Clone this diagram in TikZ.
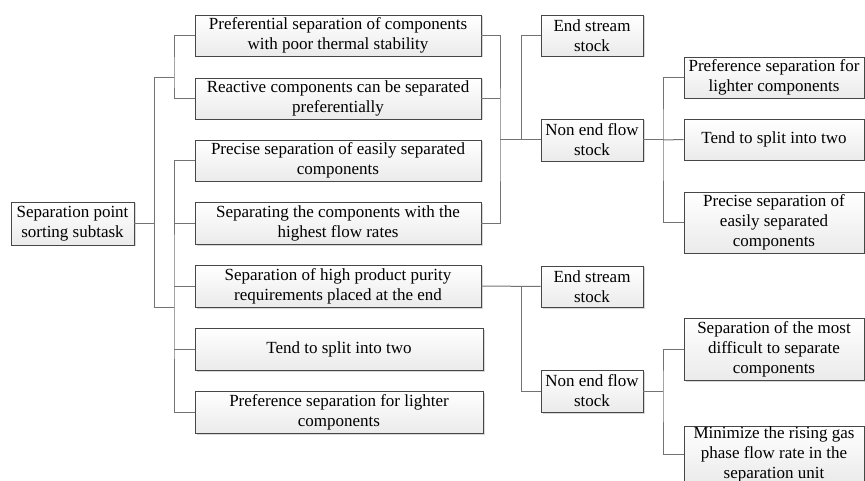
\documentclass[tikz,border=0pt]{standalone}
\usepackage{fontspec}
\setmainfont{Liberation Serif}
\usetikzlibrary{shadows}
\begin{document}
\begin{tikzpicture}[x=1pt,y=-1pt,
  box/.style={draw=black!72, line width=0.8pt, top color=white, bottom color=black!8,
    drop shadow={shadow xshift=1.5pt, shadow yshift=-1.5pt, fill=black!30, opacity=0.5},
    align=center, inner sep=0pt, font=\fontsize{17}{20}\selectfont},
  conn/.style={draw=black!55, line width=1pt}]
\useasboundingbox (0,0) rectangle (865,481);
% column 0
\node[box, minimum width=123pt, minimum height=43pt] (root) at (72.5,223.5) {Separation point\\sorting subtask};
% column 1
\node[box, minimum width=286pt, minimum height=41pt] (A1) at (338,35.5) {Preferential separation of components\\with poor thermal stability};
\node[box, minimum width=286pt, minimum height=41pt] (A2) at (338,98.5) {Reactive components can be separated\\preferentially};
\node[box, minimum width=286pt, minimum height=41pt] (B1) at (338,160.5) {Precise separation of easily separated\\components};
\node[box, minimum width=286pt, minimum height=42pt] (B2) at (338,223.5) {Separating the components with the\\highest flow rates};
\node[box, minimum width=286pt, minimum height=42pt] (B3) at (338,286) {Separation of high product purity\\requirements placed at the end};
\node[box, minimum width=288pt, minimum height=42pt] (B4) at (339,349) {Tend to split into two};
\node[box, minimum width=288pt, minimum height=42pt] (B5) at (339,412) {Preference separation for lighter\\components};
% column 2
\node[box, minimum width=102pt, minimum height=41pt] (E1) at (592,35.5) {End stream\\stock};
\node[box, minimum width=102pt, minimum height=42pt] (N1) at (592,140) {Non end flow\\stock};
\node[box, minimum width=102pt, minimum height=41pt] (E2) at (592,286.5) {End stream\\stock};
\node[box, minimum width=102pt, minimum height=42pt] (N2) at (592,391) {Non end flow\\stock};
% column 3
\node[box, minimum width=180pt, minimum height=41pt] (C1) at (774,77.5) {Preference separation for\\lighter components};
\node[box, minimum width=180pt, minimum height=41pt] (C2) at (774,139.5) {Tend to split into two};
\node[box, minimum width=180pt, minimum height=61pt] (C3) at (774,222.5) {Precise separation of\\easily separated\\components};
\node[box, minimum width=180pt, minimum height=62pt] (D1) at (774,349) {Separation of the most\\difficult to separate\\components};
\node[box, minimum width=180pt, minimum height=56pt] (D2) at (774,454.5) {Minimize the rising gas\\phase flow rate in the\\separation unit};
% bus coordinates
\coordinate (r0) at (154,223.5);
\coordinate (ra) at (154,78);
\coordinate (rb) at (154,307);
\coordinate (ja) at (174,78);
\coordinate (jb) at (174,307);
\coordinate (m1) at (500,140);
\coordinate (m2) at (521,140);
\coordinate (m3) at (521,286);
\coordinate (n1) at (663,140);
\coordinate (n2) at (663,391);
% connectors
\draw[conn] (root.east) -- (r0);
\draw[conn] (ra) -- (rb);
\draw[conn] (ra) -- (ja);
\draw[conn] (rb) -- (jb);
\draw[conn] (A1.west) -| (ja) |- (A2.west);
\draw[conn] (B1.west) -| (jb) |- (B5.west);
\draw[conn] (B2.west) -- (B2.west -| jb);
\draw[conn] (B3.west) -- (B3.west -| jb);
\draw[conn] (B4.west) -- (B4.west -| jb);
\draw[conn] (A1.east) -| (m1) |- (B2.east);
\draw[conn] (A2.east) -- (A2.east -| m1);
\draw[conn] (m1) -- (N1.west);
\draw[conn] (E1.west) -| (m2);
\draw[conn] (B3.east) -- (E2.west);
\draw[conn] (m3) |- (N2.west);
\draw[conn] (N1.east) -- (n1);
\draw[conn] (C1.west) -| (n1) |- (C3.west);
\draw[conn] (C2.west) -- (n1);
\draw[conn] (N2.east) -- (n2);
\draw[conn] (D1.west) -| (n2) |- (D2.west);
\end{tikzpicture}
\end{document}
